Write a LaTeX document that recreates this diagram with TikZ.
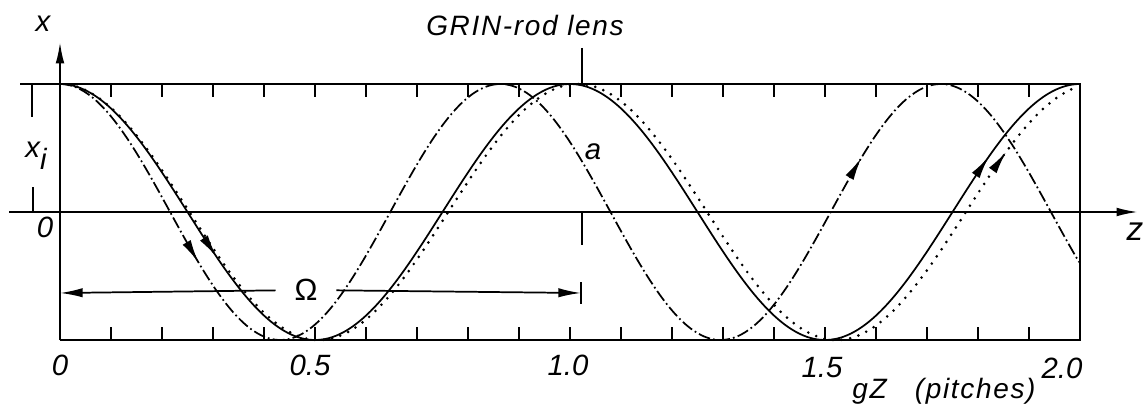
\documentclass[tikz,border=0pt]{standalone}
\usepackage{fontspec}
\setmainfont{Liberation Sans}
\newfontfamily\wordfont[LetterSpace=6]{Liberation Sans}
\usetikzlibrary{arrows.meta,positioning}
\tikzset{
  frame/.style={line width=1.5pt},
  ray/.style={line width=1.3pt},
  raydash/.style={ray,dash pattern=on 9pt off 2.4pt on 1.3pt off 2.4pt},
  raydot/.style={line width=2.2pt,line cap=round,dash pattern=on 0pt off 6.5pt},
  tip/.style={-{Latex[length=17pt,width=7pt]}},
  axis/.style={frame,-{Latex[length=16pt,width=6.5pt]}},
  lbl/.style={font=\fontsize{22}{26}\selectfont\itshape,inner sep=1pt},
  word/.style={font=\fontsize{21}{25}\selectfont\wordfont\itshape,inner sep=1pt},
  declare function={
    zp(\z)=60+510*\z;
    ra(\z)=212-128*cos(360*\z/0.8635);
    rb(\z)=212-128*cos(360*\z);
    rc(\z)=212-128*cos(360*\z/1.015);}
}
\begin{document}
\begin{tikzpicture}[x=0.75pt,y=-0.75pt]
\useasboundingbox (0,0) rectangle (1148,410);
\coordinate (xfoot) at (60,340);
\coordinate (xhead) at (60,42);
\coordinate (ztail) at (9,212);
\coordinate (zhead) at (1138,212);
\draw[frame] (20,84) -- (1080,84) -- (1080,340) -- (xfoot);
\draw[axis] (xfoot) -- (xhead);
\draw[axis] (ztail) -- (zhead);
\foreach \t in {1,...,19} {
  \draw[frame] ({zp(\t/10)},84) -- ++(0,13);
  \draw[frame] ({zp(\t/10)},340) -- ++(0,-13);
}
\draw[frame] (32,84) -- (32,117);
\draw[frame] (33,187) -- (33,212);
\draw[frame] (582,48) -- (582,84);
\draw[frame] (582,212) -- (582,245);
\draw[raydash] plot[domain=0:2,samples=300,smooth] ({zp(\x)},{ra(\x)});
\draw[ray] plot[domain=0:2,samples=300,smooth] ({zp(\x)},{rb(\x)});
\draw[raydot] plot[domain=0:2,samples=300,smooth] ({zp(\x)},{rc(\x)});
\draw[ray,tip] plot[domain=0.265:0.271,samples=2] ({zp(\x)},{ra(\x)});
\draw[ray,tip] plot[domain=0.301:0.307,samples=2] ({zp(\x)},{rb(\x)});
\draw[ray,tip] plot[domain=1.565:1.571,samples=2] ({zp(\x)},{ra(\x)});
\draw[ray,tip] plot[domain=1.815:1.821,samples=2] ({zp(\x)},{rb(\x)});
\draw[ray,tip] plot[domain=1.849:1.855,samples=2] ({zp(\x)},{rc(\x)});
\node[lbl,font=\fontsize{23}{26}\selectfont,inner xsep=14pt] (omega) at (306,290) {Ω};
\coordinate (omL) at (60,293);
\coordinate (omR) at (581,293);
\draw[ray,tip] (omega) -- (omL);
\draw[ray,tip] (omega) -- (omR);
\draw[frame] (581,282) -- (581,304);
\node[lbl] (xlab) at (43,24) {x};
\node[lbl] (xi) at (36,156) {x\raisebox{-9pt}{i}};
\node[lbl] (orig) at (45,227) {0};
\node[lbl,font=\fontsize{25}{28}\selectfont\itshape] (zlab) at (1135,232) {z};
\node[lbl] (alab) at (593,152) {a};
\node[word] (lens) at (525,25) {GRIN-rod lens};
\node[lbl] (t0) at (60,365) {0};
\node[lbl] (t05) at (310,365) {0.5};
\node[lbl] (t10) at (568,365) {1.0};
\node[lbl] (t15) at (822,368) {1.5};
\node[lbl] (t20) at (1062,368) {2.0};
\node[word,anchor=base] (unit) at (944,398) {gZ\quad (pitches)};
\end{tikzpicture}
\end{document}
